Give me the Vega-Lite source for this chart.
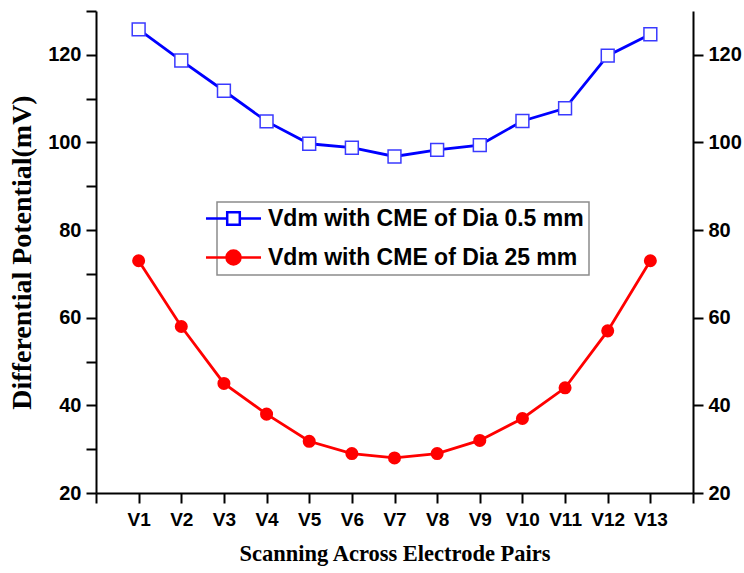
{
  "$schema": "https://vega.github.io/schema/vega-lite/v6.json",
  "autosize": {"type": "none"},
  "width": 597,
  "height": 482,
  "padding": {"left": 96, "top": 11, "right": 51, "bottom": 80},
  "background": "white",
  "config": {
    "view": {"stroke": null},
    "axis": {
      "grid": false,
      "domainColor": "black",
      "domainWidth": 2,
      "tickColor": "black",
      "tickWidth": 2,
      "tickSize": 10,
      "labelFont": "Liberation Sans",
      "labelFontWeight": "bold",
      "labelFontSize": 20,
      "labelColor": "black",
      "labelPadding": 5,
      "titleFont": "Liberation Serif",
      "titleFontWeight": "bold",
      "titleFontSize": 22.5,
      "titleColor": "black"
    }
  },
  "data": {
    "values": [
      {"pair": "V1", "n": 1, "series": "Vdm with CME of Dia 0.5 mm", "value": 125.8},
      {"pair": "V2", "n": 2, "series": "Vdm with CME of Dia 0.5 mm", "value": 118.7},
      {"pair": "V3", "n": 3, "series": "Vdm with CME of Dia 0.5 mm", "value": 111.8},
      {"pair": "V4", "n": 4, "series": "Vdm with CME of Dia 0.5 mm", "value": 104.8},
      {"pair": "V5", "n": 5, "series": "Vdm with CME of Dia 0.5 mm", "value": 99.7},
      {"pair": "V6", "n": 6, "series": "Vdm with CME of Dia 0.5 mm", "value": 98.8},
      {"pair": "V7", "n": 7, "series": "Vdm with CME of Dia 0.5 mm", "value": 96.8},
      {"pair": "V8", "n": 8, "series": "Vdm with CME of Dia 0.5 mm", "value": 98.3},
      {"pair": "V9", "n": 9, "series": "Vdm with CME of Dia 0.5 mm", "value": 99.4},
      {"pair": "V10", "n": 10, "series": "Vdm with CME of Dia 0.5 mm", "value": 104.9},
      {"pair": "V11", "n": 11, "series": "Vdm with CME of Dia 0.5 mm", "value": 107.8},
      {"pair": "V12", "n": 12, "series": "Vdm with CME of Dia 0.5 mm", "value": 119.8},
      {"pair": "V13", "n": 13, "series": "Vdm with CME of Dia 0.5 mm", "value": 124.7},
      {"pair": "V1", "n": 1, "series": "Vdm with CME of Dia 25 mm", "value": 73},
      {"pair": "V2", "n": 2, "series": "Vdm with CME of Dia 25 mm", "value": 58},
      {"pair": "V3", "n": 3, "series": "Vdm with CME of Dia 25 mm", "value": 45},
      {"pair": "V4", "n": 4, "series": "Vdm with CME of Dia 25 mm", "value": 38},
      {"pair": "V5", "n": 5, "series": "Vdm with CME of Dia 25 mm", "value": 31.8},
      {"pair": "V6", "n": 6, "series": "Vdm with CME of Dia 25 mm", "value": 29},
      {"pair": "V7", "n": 7, "series": "Vdm with CME of Dia 25 mm", "value": 28},
      {"pair": "V8", "n": 8, "series": "Vdm with CME of Dia 25 mm", "value": 29},
      {"pair": "V9", "n": 9, "series": "Vdm with CME of Dia 25 mm", "value": 32},
      {"pair": "V10", "n": 10, "series": "Vdm with CME of Dia 25 mm", "value": 37},
      {"pair": "V11", "n": 11, "series": "Vdm with CME of Dia 25 mm", "value": 44},
      {"pair": "V12", "n": 12, "series": "Vdm with CME of Dia 25 mm", "value": 57},
      {"pair": "V13", "n": 13, "series": "Vdm with CME of Dia 25 mm", "value": 73}
    ]
  },
  "encoding": {
    "x": {
      "field": "n",
      "type": "quantitative",
      "scale": {"domain": [0, 14], "nice": false, "zero": false},
      "axis": {
        "values": [0, 1, 2, 3, 4, 5, 6, 7, 8, 9, 10, 11, 12, 13, 14],
        "labelExpr": "datum.value >= 1 && datum.value <= 13 ? 'V' + datum.value : ''",
        "labelFontSize": 19,
        "labelPadding": 7,
        "title": "Scanning Across Electrode Pairs",
        "titlePadding": 13
      }
    }
  },
  "layer": [
    {
      "mark": {"type": "line", "strokeWidth": 2.8},
      "encoding": {
        "y": {
          "field": "value",
          "type": "quantitative",
          "scale": {"domain": [20, 130], "nice": false, "zero": false},
          "axis": {
            "values": [20, 30, 40, 50, 60, 70, 80, 90, 100, 110, 120, 130],
            "labelExpr": "datum.value % 20 === 0 && datum.value < 130 ? datum.label : ''",
            "title": "Differential Potential(mV)",
            "titleFontSize": 28,
            "titlePadding": 11
          }
        },
        "color": {
          "field": "series",
          "type": "nominal",
          "scale": {
            "domain": ["Vdm with CME of Dia 0.5 mm", "Vdm with CME of Dia 25 mm"],
            "range": ["#0000ff", "#ff0000"]
          },
          "legend": {
            "orient": "none",
            "legendX": 121,
            "legendY": 191,
            "title": null,
            "direction": "vertical",
            "strokeColor": "#8c8c8c",
            "fillColor": "white",
            "padding": 5,
            "labelFont": "Liberation Sans",
            "labelFontWeight": "bold",
            "labelFontSize": 23,
            "labelColor": "black",
            "labelLimit": 500,
            "labelOffset": 23,
            "symbolSize": 196,
            "symbolStrokeWidth": 2.5,
            "rowPadding": 14,
            "encode": {
              "legend": {"update": {"strokeWidth": {"value": 1.5}}},
              "symbols": {
                "update": {
                  "shape": {"signal": "datum.value === 'Vdm with CME of Dia 0.5 mm' ? 'M-3.93,0H-0.9M0.9,0H3.93M-0.9,-0.9H0.9V0.9H-0.9Z' : 'M-3.93,0H-1M1,0H3.93M-1,0A1,1 0 1,1 1,0A1,1 0 1,1 -1,0Z'"},
                  "fill": {"signal": "datum.value === 'Vdm with CME of Dia 0.5 mm' ? 'white' : '#ff0000'"},
                  "opacity": {"value": 1}
                }
              }
            }
          }
        }
      }
    },
    {
      "transform": [{"filter": "datum.series === 'Vdm with CME of Dia 0.5 mm'"}],
      "mark": {"type": "point", "shape": "square", "size": 165, "filled": true, "fill": "white", "stroke": "#3a3aff", "strokeWidth": 1.5, "opacity": 1},
      "encoding": {
        "y": {
          "field": "value",
          "type": "quantitative",
          "axis": {
            "orient": "right",
            "values": [20, 40, 60, 80, 100, 120],
            "title": null
          }
        }
      }
    },
    {
      "transform": [{"filter": "datum.series === 'Vdm with CME of Dia 25 mm'"}],
      "mark": {"type": "point", "shape": "circle", "size": 170, "filled": true, "fill": "#ff0000", "stroke": null, "opacity": 1},
      "encoding": {
        "y": {"field": "value", "type": "quantitative", "axis": null}
      }
    }
  ],
  "resolve": {"axis": {"y": "independent"}}
}
